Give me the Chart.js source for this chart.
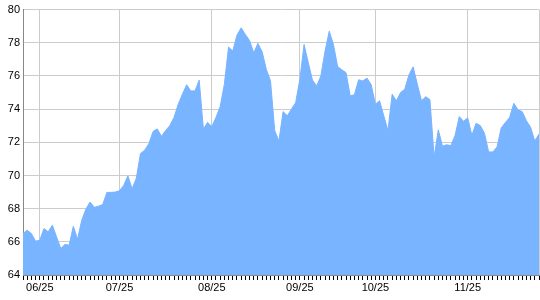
<!DOCTYPE html>
<html>
<head>
<meta charset="utf-8">
<script src="https://cdn.jsdelivr.net/npm/chart.js@4"></script>
<style>
	body { margin: 0; background: #fff; }
</style>
</head>
<body>
<canvas id="chart" width="540" height="300"></canvas>
<script>
"use strict";


const fillColor = "#78b4ff";
const gridColor = "#cccccc";
const axisColor = "#888888";
const labelColor = "#000";


// one value per trading day
const values = [
	66.5, 66.7, 66.5, 66.04, 66.1, 66.8, 66.6, 67.0, 66.3, 65.6,
	65.84, 65.8, 66.94, 66.16, 67.3, 67.98, 68.4, 68.08, 68.15, 68.25,
	68.98, 68.98, 69.0, 69.08, 69.4, 69.98, 69.2, 69.82, 71.32, 71.52,
	71.92, 72.65, 72.81, 72.36, 72.71, 73.01, 73.5, 74.3, 74.9, 75.47,
	75.1, 75.1, 75.75, 72.81, 73.2, 72.95, 73.5, 74.15, 75.5, 77.74,
	77.5, 78.46, 78.9, 78.5, 78.14, 77.4, 77.96, 77.46, 76.4, 75.7,
	72.71, 72.08, 73.85, 73.6, 74.0, 74.4, 75.8, 77.9, 76.8, 75.75,
	75.4, 76.0, 77.5, 78.7, 77.9, 76.57, 76.37, 76.2, 74.8, 74.87,
	75.77, 75.7, 75.87, 75.47, 74.3, 74.5, 73.6, 72.71, 74.9, 74.5,
	75.0, 75.2, 76.07, 76.55, 75.5, 74.5, 74.75, 74.57, 71.12, 72.75,
	71.76, 71.85, 71.8, 72.42, 73.55, 73.27, 73.47, 72.42, 73.15, 73.01,
	72.55, 71.42, 71.42, 71.72, 72.87, 73.2, 73.5, 74.35, 73.95, 73.85,
	73.3, 72.9, 72.08, 72.5,
];

// first trading day of each month and its label
const monthIndex = [4, 23, 45, 66, 84, 106];
const monthLabels = ["06/25", "07/25", "08/25", "09/25", "10/25", "11/25"];

const yMin = 64;
const yMax = 80;
const yStep = 2;


const labels = values.map((v, i) => {
	const m = monthIndex.indexOf(i);
	return m >= 0 ? monthLabels[m] : "";
});


function isGridLine(i) {
	return monthIndex.includes(i) || i == values.length - 1;
}


const ctx = document.getElementById("chart").getContext("2d");

new Chart(ctx, {
	type: "line",
	data: {
		labels: labels,
		datasets: [{
			data: values,
			fill: "start",
			backgroundColor: fillColor,
			borderColor: fillColor,
			borderWidth: 1,
			pointRadius: 0,
			tension: 0,
		}],
	},
	options: {
		responsive: false,
		animation: false,
		devicePixelRatio: 1,
		layout: {
			padding: { top: 8, right: 1, left: 0, bottom: 0 },
		},
		plugins: {
			legend: { display: false },
			tooltip: { enabled: false },
		},
		scales: {
			x: {
				offset: false,
				afterFit: scale => { scale.height = 25; },
				border: { color: axisColor },
				grid: {
					color: c => isGridLine(c.index) ? gridColor : "rgba(0,0,0,0)",
					tickColor: "#000",
					tickWidth: 1,
					tickLength: 5,
					drawTicks: true,
				},
				ticks: {
					autoSkip: false,
					maxRotation: 0,
					minRotation: 0,
					padding: 1,
					color: labelColor,
					font: { family: "'Liberation Sans', Arial, sans-serif", size: 11 },
				},
			},
			y: {
				min: yMin,
				max: yMax,
				afterFit: scale => { scale.width = 23; },
				border: { color: axisColor },
				grid: {
					color: gridColor,
					drawTicks: false,
				},
				ticks: {
					stepSize: yStep,
					padding: 3,
					color: labelColor,
					font: { family: "'Liberation Sans', Arial, sans-serif", size: 11 },
				},
			},
		},
	},
});
</script>
</body>
</html>
